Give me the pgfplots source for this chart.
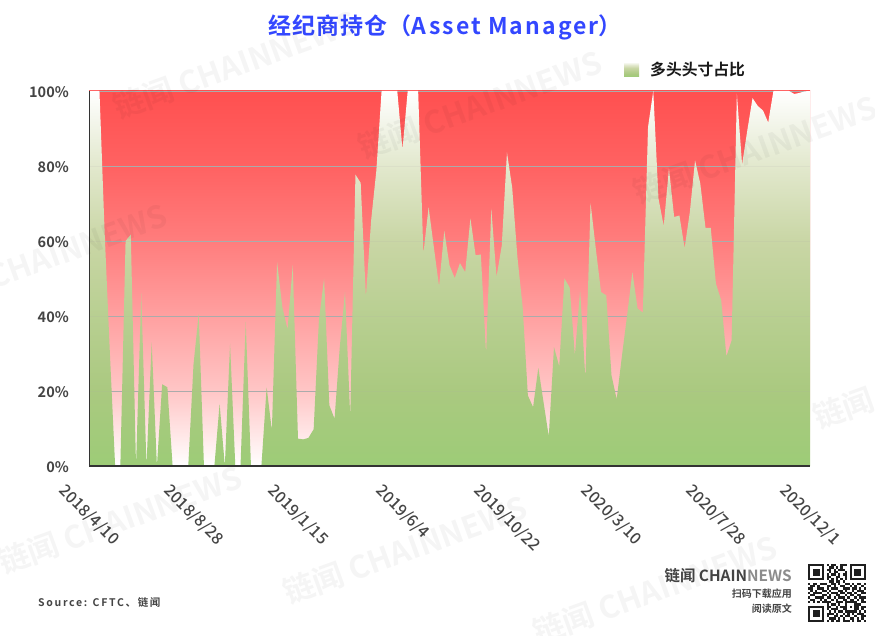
\documentclass[border=0pt]{standalone}
\usepackage{fontspec}
\usepackage{graphicx}
\usepackage{pgfplots}
\pgfplotsset{compat=1.18}
\setmainfont{Noto Sans CJK SC}
\newfontfamily\titlefont[LetterSpace=5]{Noto Sans CJK SC Bold}
\newfontfamily\titlelat[LetterSpace=9]{Noto Sans CJK SC Bold}
\newfontfamily\boldf{Noto Sans CJK SC Bold}
\newfontfamily\medf{Noto Sans CJK SC Medium}
\newfontfamily\srcf[LetterSpace=16]{Noto Sans CJK SC Bold}
\definecolor{titleblue}{RGB}{51,71,255}
\definecolor{lab}{RGB}{68,68,68}
\definecolor{grn}{RGB}{156,203,118}
\definecolor{rd}{RGB}{255,80,80}
\definecolor{g0}{RGB}{157,204,119}
\definecolor{g2}{RGB}{170,201,128}
\definecolor{g4}{RGB}{184,207,145}
\definecolor{g6}{RGB}{201,214,165}
\definecolor{g8}{RGB}{226,232,205}
\definecolor{r2}{RGB}{255,198,198}
\definecolor{r4}{RGB}{255,160,160}
\definecolor{r6}{RGB}{255,125,125}
\definecolor{r8}{RGB}{255,98,98}
\pgfdeclareverticalshading{greenv}{100bp}{color(0bp)=(g0);color(25bp)=(g0);color(35bp)=(g2);color(45bp)=(g4);color(55bp)=(g6);color(65bp)=(g8);color(75bp)=(white);color(100bp)=(white)}
\pgfdeclareverticalshading{redv}{100bp}{color(0bp)=(white);color(25bp)=(white);color(35bp)=(r2);color(45bp)=(r4);color(55bp)=(r6);color(65bp)=(r8);color(75bp)=(rd);color(100bp)=(rd)}
\newcount\qx
\def\qrbits#1{\ifx#1.\let\next\relax\else\if1#1\fill[black!88] ({808+2.32*\the\qx},{635-564-2.32*\the\qy}) rectangle ++(2.32,-2.32);\fi\advance\qx 1 \let\next\qrbits\fi\next}
\newcount\qy
\def\qr#1{\qx=0 \qrbits#1.\advance\qy 1 }
\def\wm#1#2{\node[rotate=20,text=black,opacity=.04,font=\fontsize{31}{31}\selectfont\boldf] at (#1,{635-#2}) {链闻 CHAINNEWS};}
\begin{document}
\begin{tikzpicture}[x=1pt,y=1pt]
\useasboundingbox (0,0) rectangle (875,635);
\begin{axis}[
  at={(89pt,169pt)},anchor=south west,
  width=721pt,height=375pt,scale only axis,
  xmin=0,xmax=138,ymin=0,ymax=100,clip=false,
  axis on top,
  axis x line*=bottom,axis y line*=left,
  x axis line style={-,draw=black!80,line width=1.6pt},
  y axis line style={-,draw=black!80,line width=1pt},
  major tick length=0pt,
  xtick={0,20,40,60,80,100,120,138},
  xticklabels={\rotatebox{-45}{2018/4/10},\rotatebox{-45}{2018/8/28},\rotatebox{-45}{2019/1/15},\rotatebox{-45}{2019/6/4},\rotatebox{-45}{2019/10/22},\rotatebox{-45}{2020/3/10},\rotatebox{-45}{2020/7/28},\rotatebox{-45}{2020/12/1}},
  xticklabel style={anchor=north,inner sep=0pt,yshift=-16.5pt,font=\fontsize{16}{16}\selectfont\medf,text=lab},
  ytick={0,20,40,60,80,100},
  yticklabels={0\%,20\%,40\%,60\%,80\%,100\%},
  yticklabel style={anchor=east,inner sep=0pt,xshift=-20pt,yshift=-1.2pt,font=\fontsize{14.5}{15}\selectfont\boldf,text=lab},
]
\addplot[draw=none,shade,shading=redv] coordinates {(0,100)(138,100)} \closedcycle;
\addplot[line width=.8pt,draw=black!33] coordinates {(0,100)(138,100)};
\addplot[line width=.8pt,draw=black!33] coordinates {(0,80)(138,80)};
\addplot[line width=.8pt,draw=black!33] coordinates {(0,60)(138,60)};
\addplot[line width=.8pt,draw=black!33] coordinates {(0,40)(138,40)};
\addplot[line width=.8pt,draw=black!33] coordinates {(0,20)(138,20)};
\addplot[draw=none,shade,shading=greenv] table {
0 100
1 100
2 100
3 62
4 30
5 0
6 0
7 60
8 61.7
9 0
10 46
11 0
12 33
13 0
14 21.8
15 21
16 0
17 0
18 0
19 0
20 27
21 40.6
22 0
23 0
24 0
25 16.6
26 0
27 32.6
28 0
29 0
30 38.4
31 0
32 0
33 0
34 21
35 9.5
36 54.4
37 42.4
38 36.4
39 53.5
40 7.3
41 7.1
42 7.5
43 9.8
44 38.8
45 50
46 16.2
47 12.6
48 31.7
49 46.4
50 13.1
51 77.7
52 75.5
53 45
54 65.5
55 78.8
56 100
57 100
58 100
59 100
60 84.4
61 100
62 100
63 100
64 56.6
65 69
66 58.4
67 47.9
68 62.7
69 53.5
70 50.1
71 54.1
72 51.7
73 66
74 56.2
75 56.4
76 29.8
77 68.6
78 50.4
79 58.8
80 83.6
81 74.2
82 55.7
83 42.4
84 18.8
85 15.7
86 26.2
87 17
88 7.9
89 31.7
90 26.6
91 50
92 47.6
93 29.5
94 46.8
95 23.5
96 70.1
97 58
98 46.4
99 45.5
100 24.2
101 17.8
102 29.3
103 40.2
104 51.7
105 42
106 40.9
107 90.4
108 100
109 71.3
110 64
111 79.3
112 66.4
113 66.8
114 58.1
115 67.7
116 81.5
117 75.3
118 63.5
119 63.5
120 48.6
121 44.2
122 29.2
123 33.5
124 99.3
125 80.4
126 89.5
127 98.1
128 96
129 94.8
130 91.6
131 100
132 100
133 100
134 100
135 99.2
136 99.5
137 99.9
138 100
} \closedcycle;
\addplot[line width=.8pt,draw=black!33,opacity=.12] coordinates {(0,80)(138,80)};
\addplot[line width=.8pt,draw=black!33,opacity=.12] coordinates {(0,60)(138,60)};
\addplot[line width=.8pt,draw=black!33,opacity=.12] coordinates {(0,40)(138,40)};
\addplot[line width=.8pt,draw=black!33,opacity=.12] coordinates {(0,20)(138,20)};
\end{axis}
% title
\node[anchor=west,inner sep=0pt,text=titleblue,font=\fontsize{23}{23}\selectfont\titlefont] at (268,{635-27}) {经纪商持仓（{\titlelat Asset Manager}）};
% legend
\shade[shading=greenv,draw=none] (624,{635-62}) rectangle (639,{635-77});
\node[anchor=west,inner sep=0pt,text=black!90,font=\fontsize{15.8}{16}\selectfont\boldf] at (650,{635-70}) {多头头寸占比};
% source
\node[anchor=west,inner sep=0pt,text=lab,font=\fontsize{10.5}{11}\selectfont\srcf] at (38,{635-602}) {Source: CFTC、链闻};
% logo
\node[anchor=east,inner sep=0pt,text=lab,font=\fontsize{15.4}{15}\selectfont\boldf] at (792,{635-576}) {链闻 CHAIN\textcolor{black!45}{NEWS}};
\node[anchor=east,inner sep=0pt,text=lab,font=\fontsize{10}{10}\selectfont\boldf] at (792,{635-594}) {扫码下载应用};
\node[anchor=east,inner sep=0pt,text=lab,font=\fontsize{10}{10}\selectfont\boldf] at (792,{635-609}) {阅读原文};
% qr
\qy=0
\qr{1111111010110011101111111}
\qr{1000001001101010001000001}
\qr{1011101011010111001011101}
\qr{1011101001011000101011101}
\qr{1011101010110101101011101}
\qr{1000001011001100101000001}
\qr{1111111010101010101111111}
\qr{0000000001101101000000000}
\qr{1011011100110100110101101}
\qr{0110100011010011001010010}
\qr{1100111010111001110110101}
\qr{0101001101000110100101110}
\qr{1011110010111011011010011}
\qr{0110001101001100101101100}
\qr{1001111011010111010010111}
\qr{0110010100101001101101010}
\qr{1010101111001110111110011}
\qr{0000000010110100100011100}
\qr{1111111011001011101011011}
\qr{1000001010111001100011010}
\qr{1011101001010110111110101}
\qr{1011101011101001010101110}
\qr{1011101010011010110010011}
\qr{1000001001110101001101010}
\qr{1111111010101101110101101}
% watermarks
\begin{scope}
\clip (0,0) rectangle (875,635);
\wm{235}{65}\wm{480}{105}\wm{755}{150}
\wm{45}{258}\wm{935}{375}
\wm{120}{520}\wm{405}{550}\wm{655}{590}
\end{scope}
\end{tikzpicture}
\end{document}
